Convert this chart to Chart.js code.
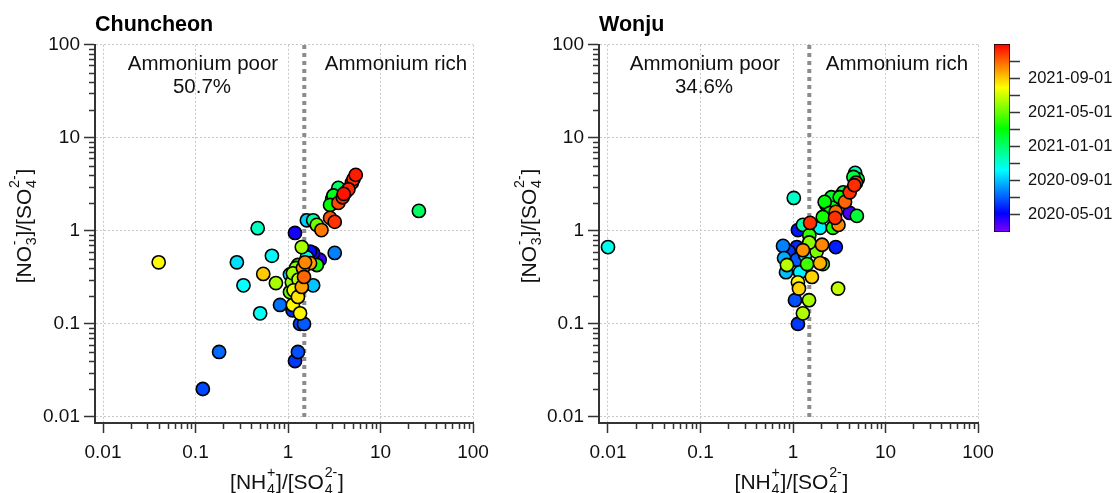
<!DOCTYPE html>
<html><head><meta charset="utf-8">
<script src="https://cdn.jsdelivr.net/npm/chart.js@4.4.0/dist/chart.umd.min.js"></script>
<style>
html,body{margin:0;padding:0;background:#fff;}
#wrap{position:relative;width:1116px;height:493px;overflow:hidden;background:#fff;}
canvas{position:absolute;top:0;}
</style></head><body>
<div id="wrap">
<canvas id="c1" width="500" height="493" style="left:0px"></canvas>
<canvas id="c2" width="500" height="493" style="left:500px"></canvas>
<canvas id="c3" width="136" height="493" style="left:980px"></canvas>
</div>
<script>
// ---------------- DATA ----------------
const xTickValues = [0.01, 0.1, 1, 10, 100];
const xTickLabels = ['0.01', '0.1', '1', '10', '100'];
const yTickValues = [0.01, 0.1, 1, 10, 100];
const yTickLabels = ['0.01', '0.1', '1', '10', '100'];

const thresholdRatio = 1.5;

const chunNH4 = [5.4, 5.1, 4.9, 4.5, 4.2, 3.9, 3.5, 3.5, 3.3, 3.1, 2.85, 2.85, 3.2, 26, 1.6, 1.87, 2.05, 2.3, 0.47, 1.19,
  1.41, 3.2, 0.040, 0.28, 0.67, 0.54, 0.33, 0.74, 0.50, 0.82, 0.18, 0.12, 1.28, 1.19, 1.35, 1.49, 1.35, 1.13, 1.28, 1.41,
  1.87, 1.10, 1.05, 1.13, 1.22, 1.49, 1.28, 1.53, 1.73, 2.05, 2.2, 1.87, 1.73, 1.05, 1.15, 1.45, 1.30, 1.12, 1.6, 4.0, 3.0];
const chunNO3 = [4.0, 3.6, 3.3, 2.8, 2.6, 2.3, 2.0, 2.9, 2.5, 2.4, 1.9, 1.38, 1.25, 1.64, 1.3, 1.3, 1.16, 1.02, 1.07, 0.95,
  0.67, 0.58, 0.46, 0.46, 0.54, 0.345, 0.26, 0.275, 0.13, 0.16, 0.050, 0.020, 0.050, 0.040, 0.10, 0.10, 0.13, 0.16, 0.195, 0.25,
  0.26, 0.28, 0.34, 0.35, 0.40, 0.32, 0.43, 0.46, 0.45, 0.43, 0.49, 0.58, 0.60, 0.22, 0.23, 0.40, 0.30, 0.14, 0.52, 2.5, 2.2];
const chunDate = ['2021-12-15', '2021-12-05', '2021-11-28', '2021-12-08', '2021-11-22', '2021-12-01', '2021-11-18', '2021-01-05', '2020-12-20', '2021-02-20',
  '2021-03-05', '2021-11-15', '2021-12-01', '2021-01-10', '2020-09-10', '2020-12-10', '2021-05-10', '2021-10-20', '2020-11-15', '2020-04-25',
  '2021-06-10', '2020-07-25', '2021-08-01', '2020-09-20', '2020-10-05', '2021-09-01', '2020-10-10', '2021-06-10', '2020-10-15', '2020-07-15',
  '2020-07-10', '2020-06-20', '2020-06-25', '2020-06-10', '2020-06-15', '2020-07-01', '2021-08-05', '2021-08-01', '2021-08-15', '2021-09-25',
  '2020-09-05', '2021-05-25', '2020-09-25', '2021-06-05', '2021-05-20', '2021-11-01', '2021-04-10', '2021-10-10', '2021-09-25', '2021-03-20',
  '2020-04-10', '2020-04-20', '2020-05-15', '2021-05-01', '2021-07-20', '2021-10-01', '2021-06-20', '2020-06-01', '2020-10-25', '2021-12-20', '2021-02-01'];

const wonjNH4 = [4.7, 4.5, 5.0, 4.8, 4.6, 4.1, 3.5, 3.2, 3.65, 3.3, 2.2, 2.7, 2.5, 2.9, 4.1, 4.9, 2.1, 2.85, 3.1, 2.7,
  1.96, 1.53, 1.28, 1.13, 1.02, 0.01, 0.78, 1.1, 2.06, 2.9, 1.28, 1.5, 0.8, 1.1, 0.86, 0.84, 1.42, 1.96, 2.1, 1.19,
  1.6, 1.13, 1.16, 1.05, 1.49, 1.28, 1.13, 3.07, 1.5, 1.7, 1.8, 2.3, 2.6, 0.9, 1.35];
const wonjNO3 = [4.2, 3.8, 3.6, 3.3, 3.1, 2.6, 2.6, 2.3, 2.05, 2.4, 2.05, 1.77, 1.56, 1.6, 1.56, 1.45, 1.41, 1.38, 1.16, 1.08,
  1.08, 1.22, 1.16, 1.02, 2.26, 0.67, 0.69, 0.67, 0.71, 0.67, 0.62, 0.75, 0.51, 0.49, 0.43, 0.36, 0.44, 0.45, 0.44, 0.36,
  0.32, 0.28, 0.24, 0.18, 0.18, 0.13, 0.10, 0.24, 0.9, 1.1, 0.6, 1.9, 2.3, 0.6, 0.55];
const wonjDate = ['2020-11-20', '2021-02-01', '2021-01-20', '2021-11-20', '2021-12-05', '2021-12-01', '2021-02-15', '2021-03-01', '2021-11-01', '2020-04-10',
  '2021-03-01', '2021-02-20', '2021-03-10', '2021-10-25', '2020-04-01', '2021-02-01', '2021-03-15', '2021-12-01', '2021-10-10', '2021-03-20',
  '2020-10-01', '2021-12-01', '2020-12-01', '2020-05-20', '2020-11-10', '2020-10-20', '2020-07-25', '2020-06-01', '2021-10-10', '2020-05-25',
  '2021-10-05', '2021-05-25', '2020-08-20', '2020-07-01', '2021-06-20', '2020-09-01', '2021-04-10', '2021-09-15', '2021-03-25', '2020-10-01',
  '2021-08-25', '2021-08-05', '2021-08-25', '2020-06-25', '2021-06-10', '2021-06-15', '2020-06-10', '2021-06-25', '2021-04-01', '2020-09-15',
  '2021-05-15', '2021-02-01', '2021-02-10', '2020-06-10', '2020-10-10'];

const colorbarMin = '2020-03-01';
const colorbarMax = '2022-01-01';
const colorbarTickLabels = ['2020-05-01', '2020-09-01', '2021-01-01', '2021-05-01', '2021-09-01'];
const colorbarMinorTicks = ['2020-07-01', '2020-11-01', '2021-03-01', '2021-07-01', '2021-11-01'];

// ---------------- HELPERS ----------------
const FONT = '"Liberation Sans", Arial, Helvetica, sans-serif';
function monthNum(s) {
  const [y, m, d] = s.split('-').map(Number);
  return (y - 2020) * 12 + (m - 1) + (d - 1) / 30.44;
}
const cbLo = monthNum(colorbarMin), cbHi = monthNum(colorbarMax);
const cmapStops = [[0, [128, 0, 255]], [0.1, [0, 0, 255]], [0.33, [0, 255, 255]], [0.55, [0, 255, 0]], [0.77, [255, 255, 0]], [1, [255, 0, 0]]];
function cmap(f) {
  f = Math.max(0, Math.min(1, f));
  for (let i = 1; i < cmapStops.length; i++) {
    const [f1, c1] = cmapStops[i];
    const [f0, c0] = cmapStops[i - 1];
    if (f <= f1) {
      const t = (f - f0) / (f1 - f0);
      const c = c0.map((v, k) => Math.round(v + (c1[k] - v) * t));
      return `rgb(${c[0]},${c[1]},${c[2]})`;
    }
  }
  return 'rgb(255,0,0)';
}
function colorForDate(s) { return cmap((monthNum(s) - cbLo) / (cbHi - cbLo)); }

function buildPoints(xs, ys, ds) {
  const idx = xs.map((_, i) => i).sort((a, b) => monthNum(ds[a]) - monthNum(ds[b]));
  return {
    data: idx.map(i => ({ x: xs[i], y: ys[i] })),
    colors: idx.map(i => colorForDate(ds[i]))
  };
}

function drawRich(ctx, segs, size) {
  const small = size * 0.68;
  const parts = segs.map(s => {
    if (typeof s === 'string') {
      ctx.font = `${size}px ${FONT}`;
      return { s, w: ctx.measureText(s).width };
    }
    ctx.font = `${small}px ${FONT}`;
    return { sub: s.sub, sup: s.sup, w: Math.max(ctx.measureText(s.sub).width, ctx.measureText(s.sup).width) + 1.5 };
  });
  const total = parts.reduce((a, p) => a + p.w, 0);
  let x = -total / 2;
  ctx.textBaseline = 'alphabetic';
  ctx.textAlign = 'left';
  for (const p of parts) {
    if (p.s !== undefined) {
      ctx.font = `${size}px ${FONT}`;
      ctx.fillText(p.s, x, 0);
    } else {
      ctx.font = `${small}px ${FONT}`;
      ctx.fillText(p.sub, x + 0.75, size * 0.24);
      ctx.fillText(p.sup, x + 0.75, -size * 0.56);
    }
    x += p.w;
  }
}
const xTitleSegs = ['[NH', { sub: '4', sup: '+' }, ']/[SO', { sub: '4', sup: '2-' }, ']'];
const yTitleSegs = ['[NO', { sub: '3', sup: '-' }, ']/[SO', { sub: '4', sup: '2-' }, ']'];

const overlayPlugin = {
  id: 'overlay',
  afterDraw(chart, args, opts) {
    const ctx = chart.ctx;
    const area = chart.chartArea;
    const xs = chart.scales.x, ys = chart.scales.y;
    ctx.save();
    // minor ticks
    ctx.strokeStyle = '#333';
    ctx.lineWidth = 1.5;
    ctx.beginPath();
    for (let d = 0.01; d < 99; d *= 10) {
      for (let k = 2; k <= 9; k++) {
        const v = d * k;
        const px = Math.round(xs.getPixelForValue(v)) + 0.5;
        ctx.moveTo(px, area.bottom); ctx.lineTo(px, area.bottom + 6);
        const py = Math.round(ys.getPixelForValue(v)) + 0.5;
        ctx.moveTo(area.left - 6, py); ctx.lineTo(area.left, py);
      }
    }
    ctx.stroke();
    // axis titles
    ctx.fillStyle = '#111';
    ctx.save();
    ctx.translate((area.left + area.right) / 2 + 3, opts.xTitleBaseline);
    drawRich(ctx, xTitleSegs, 21);
    ctx.restore();
    ctx.save();
    ctx.translate(opts.yTitleBaseline, opts.yTitleCenter);
    ctx.rotate(-Math.PI / 2);
    drawRich(ctx, yTitleSegs, 21);
    ctx.restore();
    // annotations
    ctx.font = `20.5px ${FONT}`;
    ctx.textAlign = 'center';
    ctx.textBaseline = 'middle';
    for (const a of opts.notes) ctx.fillText(a.text, a.x, a.y);
    ctx.restore();
  }
};

function scalesFor(xMin, yMin, yWidth) {
  const gridCommon = { color: '#c8c8c8', lineWidth: 1, tickLength: 10, tickColor: '#333', tickWidth: 1.5 };
  return {
    x: {
      type: 'logarithmic', position: 'bottom', min: xMin, max: 100, bounds: 'data',
      afterBuildTicks: s => { s.ticks = xTickValues.map(v => ({ value: v })); },
      afterFit: s => { s.height = 70; s.paddingLeft = 0; s.paddingRight = 0; },
      ticks: { autoSkip: false, maxRotation: 0, padding: 8, color: '#111', font: { family: FONT, size: 19 },
        callback: (v, i) => xTickLabels[i] },
      grid: Object.assign({}, gridCommon, { tickLength: 10 }),
      border: { display: true, color: '#333', width: 2, dash: [2, 2] }
    },
    y: {
      type: 'logarithmic', position: 'left', min: yMin, max: 100, bounds: 'data',
      afterBuildTicks: s => { s.ticks = yTickValues.map(v => ({ value: v })); },
      afterFit: s => { s.width = yWidth; s.paddingTop = 0; s.paddingBottom = 0; },
      ticks: { autoSkip: false, padding: 4, color: '#111', font: { family: FONT, size: 19 },
        callback: (v, i) => yTickLabels[i] },
      grid: Object.assign({}, gridCommon, { tickLength: 11 }),
      border: { display: true, color: '#333', width: 2, dash: [2, 2] }
    }
  };
}

function makePanel(canvasId, title, xs, ys, ds, cfg) {
  const pts = buildPoints(xs, ys, ds);
  return new Chart(document.getElementById(canvasId), {
    type: 'scatter',
    data: {
      datasets: [
        {
          label: 'obs', data: pts.data, order: 1,
          pointBackgroundColor: pts.colors, pointBorderColor: '#000', pointBorderWidth: 1.6,
          pointRadius: 6.6, pointHoverRadius: 6.6
        },
        {
          type: 'line', label: 'threshold', order: 2,
          data: [{ x: thresholdRatio, y: 0.01 }, { x: thresholdRatio, y: 100 }],
          borderColor: '#8c8c8c', borderWidth: 4, borderDash: [4, 4], pointRadius: 0, fill: false, showLine: true
        }
      ]
    },
    options: {
      responsive: false, animation: false, events: [],
      layout: { padding: { left: 0, right: cfg.padRight, top: 0, bottom: 0 } },
      scales: scalesFor(cfg.xMin, cfg.yMin, cfg.yWidth),
      plugins: {
        legend: { display: false }, tooltip: { enabled: false },
        title: { display: true, text: title, align: 'start', fullSize: false, color: '#000',
          font: { family: FONT, size: 21.5, weight: 'bold' }, padding: { top: 12, bottom: 7 } },
        overlay: cfg.overlay
      }
    },
    plugins: [overlayPlugin]
  });
}

makePanel('c1', 'Chuncheon', chunNH4, chunNO3, chunDate, {
  xMin: Math.pow(10, -2 - 8 / 92.5), yMin: Math.pow(10, -2 - 6 / 93), yWidth: 95, padRight: 27,
  overlay: {
    xTitleBaseline: 489, yTitleBaseline: 31, yTitleCenter: 226,
    notes: [{ text: 'Ammonium poor', x: 203, y: 64 }, { text: '50.7%', x: 202, y: 87 }, { text: 'Ammonium rich', x: 396, y: 64 }]
  }
});
makePanel('c2', 'Wonju', wonjNH4, wonjNO3, wonjDate, {
  xMin: Math.pow(10, -2 - 9 / 92.5), yMin: Math.pow(10, -2 - 6 / 93), yWidth: 99, padRight: 22,
  overlay: {
    xTitleBaseline: 489, yTitleBaseline: 36, yTitleCenter: 226,
    notes: [{ text: 'Ammonium poor', x: 205, y: 64 }, { text: '34.6%', x: 204, y: 87 }, { text: 'Ammonium rich', x: 397, y: 64 }]
  }
});

// ---------------- COLORBAR ----------------
const cbAll = colorbarTickLabels.concat(colorbarMinorTicks).map(s => ({ s, v: monthNum(s) })).sort((a, b) => a.v - b.v);
new Chart(document.getElementById('c3'), {
  type: 'bar',
  data: {
    labels: [''],
    datasets: [{
      data: [[cbLo, cbHi]],
      borderColor: '#000', borderWidth: 1, borderSkipped: false,
      barPercentage: 1, categoryPercentage: 1,
      backgroundColor: (c) => {
        const a = c.chart.chartArea;
        if (!a) return '#888';
        const g = c.chart.ctx.createLinearGradient(0, a.bottom, 0, a.top);
        for (const [f, col] of cmapStops) g.addColorStop(f, `rgb(${col[0]},${col[1]},${col[2]})`);
        return g;
      }
    }]
  },
  options: {
    responsive: false, animation: false, events: [],
    layout: { padding: { left: 14, right: 0, top: 44, bottom: 261 } },
    scales: {
      x: { display: false },
      y: {
        type: 'linear', position: 'right', min: cbLo, max: cbHi,
        afterBuildTicks: s => { s.ticks = cbAll.map(t => ({ value: t.v })); },
        afterFit: s => { s.width = 106; s.paddingTop = 0; s.paddingBottom = 0; },
        ticks: { autoSkip: false, padding: 8, color: '#111', font: { family: FONT, size: 16.5 },
          callback: (v, i) => { const t = cbAll[i]; return colorbarTickLabels.includes(t.s) ? t.s : ''; } },
        grid: { drawOnChartArea: false, tickLength: 10, tickColor: '#333', tickWidth: 1.5 },
        border: { display: false }
      }
    },
    plugins: { legend: { display: false }, tooltip: { enabled: false } }
  }
});
</script>
</body></html>
